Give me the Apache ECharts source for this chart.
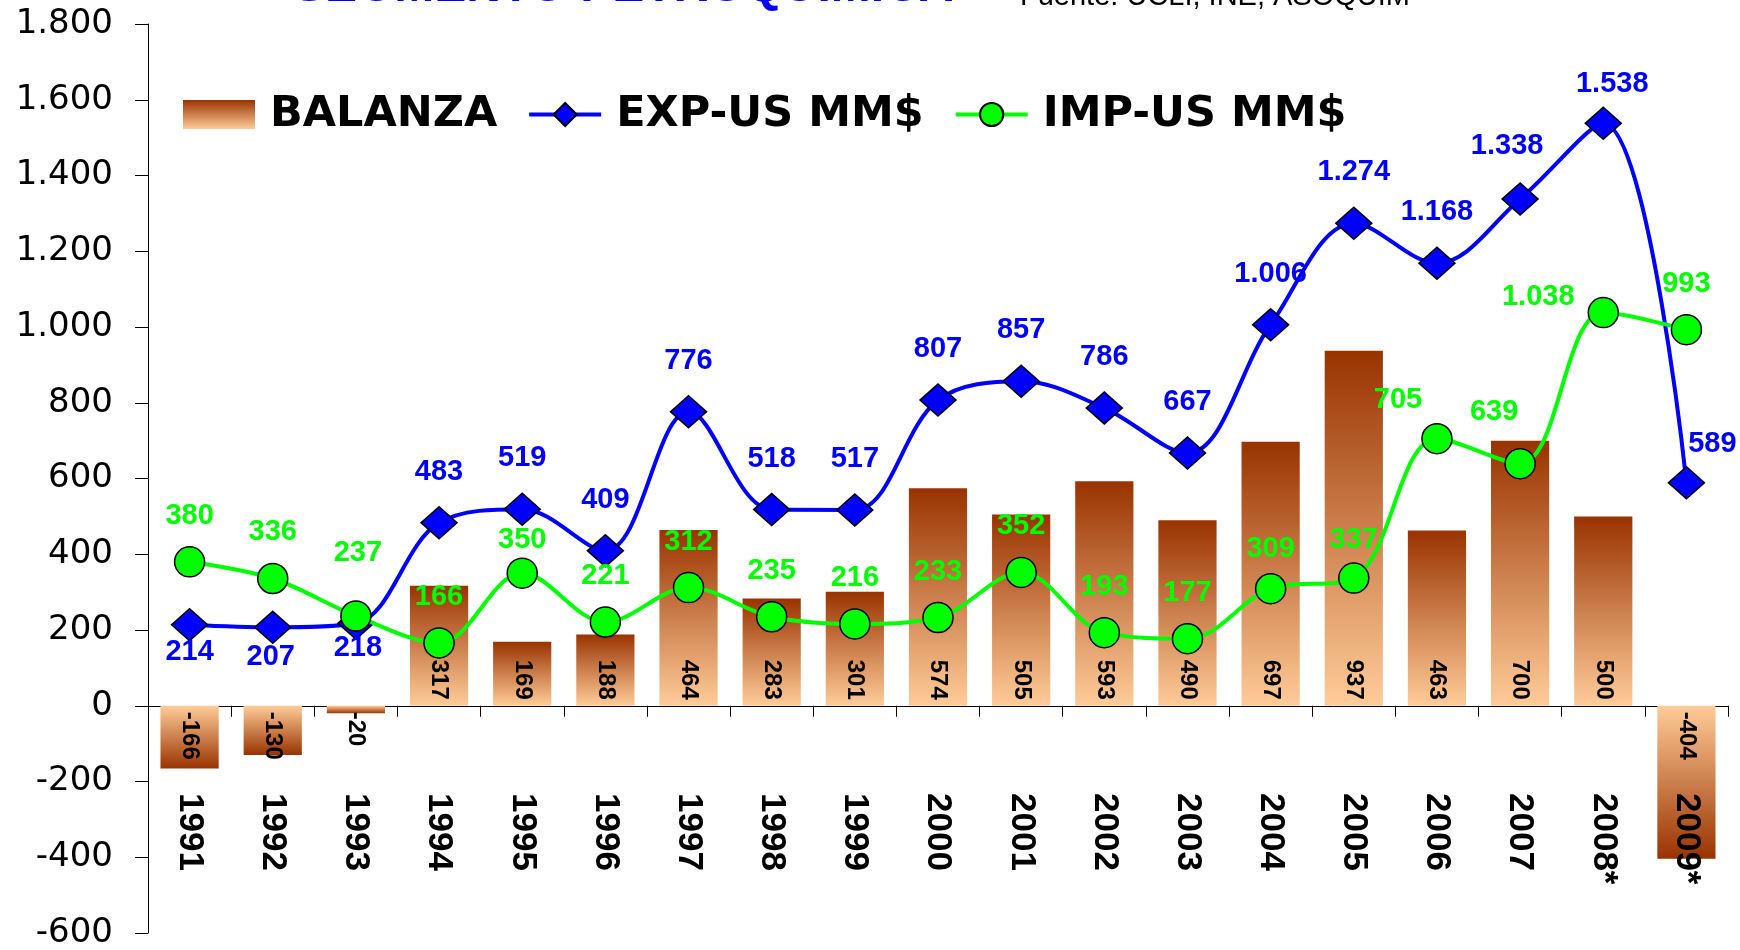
<!DOCTYPE html>
<html>
<head>
<meta charset="utf-8">
<script src="https://cdn.jsdelivr.net/npm/echarts@6/dist/echarts.min.js"></script>
<style>
html,body{margin:0;padding:0;background:#fff;}
#chart{width:1740px;height:950px;}
</style>
</head>
<body>
<div id="chart"></div>
<script>
// ---- data ----
const categories = ['1991','1992','1993','1994','1995','1996','1997','1998','1999','2000','2001','2002','2003','2004','2005','2006','2007','2008*','2009*'];
const balanza = [-166,-130,-20,317,169,188,464,283,301,574,505,593,490,697,937,463,700,500,-404];
const expUS   = [214,207,218,483,519,409,776,518,517,807,857,786,667,1006,1274,1168,1338,1538,589];
const impUS   = [380,336,237,166,350,221,312,235,216,233,352,193,177,309,337,705,639,1038,993];
const yMin = -600, yMax = 1800, yStep = 200;
const seriesNames = ['BALANZA','EXP-US MM$','IMP-US MM$'];
const titleText = 'SEGMENTO PETROQUIMICA';
const sourceText = 'Fuente: UCLI, INE, ASOQUIM';

// ---- layout helpers (label placement, not data) ----
const expLabelOffsets = {0:[0,27],1:[-2,30],2:[2,25],16:[-13,-53],17:[9,-39],18:[26,-39]};
const impLabelOffsets = {2:[2,-63],4:[0,-33],13:[0,-40],14:[0,-38],15:[-39,-39],16:[-26,-52],17:[-65,-16]};

function fmt(v){
  const s = Math.abs(v).toString();
  const withSep = s.replace(/\B(?=(\d{3})+(?!\d))/g,'.');
  return (v<0?'-':'') + withSep;
}

const DARK = '#993300', LIGHT = '#FFCC99';
const gradPos = new echarts.graphic.LinearGradient(0,0,0,1,[{offset:0,color:DARK},{offset:1,color:LIGHT}]);
const gradNeg = new echarts.graphic.LinearGradient(0,0,0,1,[{offset:0,color:LIGHT},{offset:1,color:DARK}]);

const barData = balanza.map(v => {
  if (v >= 0) {
    return { value: v, label: { position: 'insideBottom', distance: 6, align: 'right', verticalAlign: 'middle' } };
  }
  return { value: v, itemStyle: { color: gradNeg }, label: { position: 'insideTop', distance: 6, align: 'left', verticalAlign: 'middle' } };
});

function lineData(arr, offsets, def){
  return arr.map((v,i) => ({ value: v, label: { offset: offsets[i] || def } }));
}

const labelFont = { fontFamily: 'Liberation Sans, Arial, sans-serif', fontWeight: 'bold', fontSize: 29 };

const chart = echarts.init(document.getElementById('chart'), null, {renderer:'canvas'});
chart.setOption({
  animation: false,
  backgroundColor: '#ffffff',
  graphic: [
    { type: 'text', left: 293, top: -36, style: { text: titleText, fill: '#0000FF', font: 'bold 48px "Liberation Sans", Arial, sans-serif' } },
    { type: 'text', left: 1020, top: -18, style: { text: sourceText, fill: '#000000', font: '29px "Liberation Sans", Arial, sans-serif' } }
  ],
  legend: {
    left: 178, top: 88,
    itemWidth: 72, itemHeight: 29, itemGap: 30,
    lineStyle: { width: 4 },
    textStyle: { fontFamily: 'DejaVu Sans', fontWeight: 'bold', fontSize: 43, color: '#000', padding: [0,0,0,10] },
    data: [{name: seriesNames[0], icon: 'rect'}, seriesNames[1], seriesNames[2]]
  },
  grid: { left: 148, right: 12, top: 24, bottom: 17, containLabel: false, outerBoundsMode: 'none' },
  xAxis: [
    {
      type: 'category',
      data: categories,
      boundaryGap: true,
      axisLine: { onZero: true, lineStyle: { color: '#000', width: 1 } },
      axisTick: { show: true, length: 11, lineStyle: { color: '#000' } },
      axisLabel: { show: false },
      splitLine: { show: false }
    },
    {
      type: 'category',
      data: categories,
      position: 'bottom',
      boundaryGap: true,
      z: 10,
      axisLine: { show: false, onZero: false },
      axisTick: { show: false },
      axisLabel: { rotate: -90, margin: -140, color: '#000', fontFamily: 'Liberation Sans, Arial, sans-serif', fontWeight: 'bold', fontSize: 35 },
      splitLine: { show: false }
    }
  ],
  yAxis: {
    type: 'value',
    min: yMin, max: yMax, interval: yStep,
    axisLine: { show: true, lineStyle: { color: '#000', width: 1 } },
    axisTick: { show: true, length: 13, lineStyle: { color: '#000' } },
    axisLabel: { margin: 35, color: '#000', fontFamily: 'DejaVu Sans', fontSize: 34, formatter: v => fmt(v) },
    splitLine: { show: false }
  },
  series: [
    {
      name: seriesNames[0], type: 'bar', data: barData,
      barCategoryGap: '30%',
      itemStyle: { color: gradPos },
      label: { show: true, rotate: -90, color: '#000', fontFamily: 'Liberation Sans, Arial, sans-serif', fontWeight: 'bold', fontSize: 24, formatter: p => fmt(p.value) },
      z: 1
    },
    {
      name: seriesNames[1], type: 'line', data: lineData(expUS, expLabelOffsets, [0,-51]),
      smooth: 0.35,
      symbol: 'diamond', symbolSize: [36, 32],
      lineStyle: { color: '#0000FF', width: 4 },
      itemStyle: { color: '#0000FF', borderColor: '#000', borderWidth: 1.5 },
      label: Object.assign({ show: true, position: 'inside', align: 'center', verticalAlign: 'middle', color: '#0000FF', formatter: p => fmt(p.value) }, labelFont),
      z: 3
    },
    {
      name: seriesNames[2], type: 'line', data: lineData(impUS, impLabelOffsets, [0,-46]),
      smooth: 0.35,
      symbol: 'circle', symbolSize: 30,
      lineStyle: { color: '#00FF00', width: 4 },
      itemStyle: { color: '#00FF00', borderColor: '#000', borderWidth: 1.5 },
      label: Object.assign({ show: true, position: 'inside', align: 'center', verticalAlign: 'middle', color: '#00FF00', formatter: p => fmt(p.value) }, labelFont),
      z: 4
    }
  ]
});
</script>
</body>
</html>
